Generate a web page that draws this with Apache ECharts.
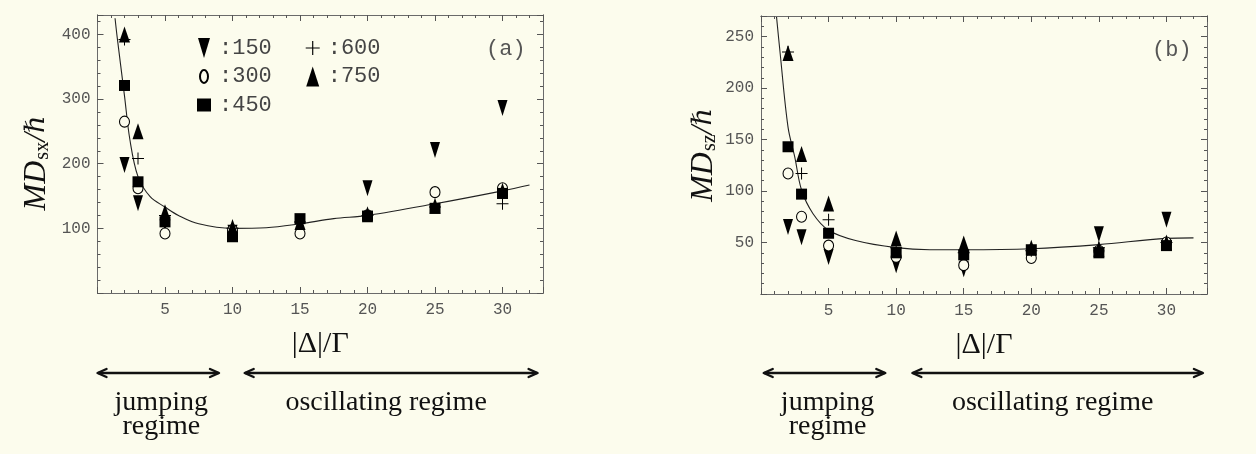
<!DOCTYPE html>
<html><head><meta charset="utf-8">
<script src="https://cdn.jsdelivr.net/npm/echarts@6/dist/echarts.min.js"></script>
<style>html,body{margin:0;padding:0;background:#FCFCED;}#c{width:1256px;height:454px;}</style>
</head><body><div id="c"></div>
<script>
// ---- data ----
const xValues = [2, 3, 5, 10, 15, 20, 25, 30];
const groupNames = ['150', '300', '450', '600', '750'];
// panel (a): MD_sx / hbar
const a150 = [198, 139, 108, 93, 110, 162, 221, 286];
const a300 = [265, 162, 92, 97, 92, 120, 156, 162];
const a450 = [321, 172, 110, 87, 115, 119, 131, 154];
const a600 = [392, 208, 120, 100, 110, 120, 133, 138];
const a750 = [400, 250, 125, 102, 110, 122, 135, 158];
const fitAx = [1.3, 1.45, 2, 2.4, 3, 3.9, 5, 6, 7.5, 10, 12.5, 15, 17.5, 20, 25, 30, 32];
const fitAy = [425, 397, 305, 237, 180, 149, 133, 120, 107, 100, 101, 107, 115, 120, 138, 158, 167];
// panel (b): MD_sz / hbar
const b150 = [65, 55, 36, 28, 24, 38, 58, 72];
const b300 = [117, 75, 47, 36, 28, 35, 42, 50];
const b450 = [143, 97, 59, 40, 38, 43, 40, 47];
const b600 = [235, 117, 72, 45, 40, 42, 45, 50];
const b750 = [234, 136, 88, 54, 49, 45, 44, 50];
const fitBx = [1.15, 1.4, 2, 2.5, 3, 3.85, 5, 7, 10, 12.5, 15, 20, 25, 30, 32];
const fitBy = [269, 236, 162, 133, 101, 78, 62, 52, 45, 43, 43, 44, 48, 54, 54.5];
// ticks
const xTicksMajor = 5, xTicksMinor = 1, xMax = 33;
const yATicksMajor = 100, yATicksMinor = 20, yAMax = 430;
const yBTicksMajor = 50, yBTicksMinor = 10, yBMax = 270;
// regime annotations
const regimeLabels = ['jumping\nregime', 'oscillating regime'];
const regimeRangesA = [[0, 9], [10.9, 32.6]];
const regimeRangesB = [[0.2, 9.2], [11.2, 32.7]];
const panelTags = ['(a)', '(b)'];

// ---- styling ----
const BG = '#FCFCED';
const FRAME = '#6a6a6a';
const TICK = '#555';
const MONO = '"Liberation Mono", "DejaVu Sans Mono", monospace';
const SERIF = '"Liberation Serif", "DejaVu Serif", serif';

const symbols = {
  '150': { symbol: 'path://M0,0L12,0L6,20Z', size: [10, 16], style: { color: '#000', opacity: 1 } },
  '300': { symbol: 'path://M5,0A5,7,0,1,1,5,14A5,7,0,1,1,5,0Z', size: [10, 11], style: { color: BG, borderColor: '#000', borderWidth: 1.1, opacity: 1 } },
  '450': { symbol: 'path://M0,0L14,0L14,13L0,13Z', size: [11, 11], style: { color: '#000', opacity: 1 } },
  '600': { symbol: 'path://M5.5,0h1v12h-1zM0,5.5h12v1h-12z', size: [12, 12], style: { color: '#000', opacity: 1 } },
  '750': { symbol: 'path://M6.5,0L13,20L0,20Z', size: [11, 16], style: { color: '#000', opacity: 1 } }
};
// legend icon for the open circle: small oval inside a larger (invisible) box
const legendCircleIcon = 'path://M0,0M14,20M7,3.5A4,6.5,0,1,1,7,16.5A4,6.5,0,1,1,7,3.5Z';

const grids = [
  { left: 97.5, top: 15, width: 445.5, height: 278 },
  { left: 761, top: 16, width: 446, height: 278 }
];

const xAxes = [], yAxes = [];
function addX(grid, pos, interval, len, labels, name) {
  xAxes.push({
    type: 'value', gridIndex: grid, position: pos, min: 0, max: xMax, interval: interval,
    axisLine: { show: true, onZero: false, lineStyle: { color: FRAME, width: 1 } },
    axisTick: { show: true, inside: true, length: len, lineStyle: { color: TICK, width: 1 } },
    splitLine: { show: false },
    axisLabel: { show: labels, margin: 9, fontFamily: MONO, fontSize: 16, color: '#555',
      formatter: v => (v > 0 && v % 5 === 0) ? String(v) : '' },
    name: name || '', nameLocation: 'middle', nameGap: 36,
    nameTextStyle: { fontFamily: SERIF, fontSize: 30, color: '#111' }
  });
  return xAxes.length - 1;
}
function addY(grid, pos, max, interval, len, labels, name, gap, major, pad) {
  yAxes.push({
    type: 'value', gridIndex: grid, position: pos, min: 0, max: max, interval: interval,
    axisLine: { show: true, onZero: false, lineStyle: { color: FRAME, width: 1 } },
    axisTick: { show: true, inside: true, length: len, lineStyle: { color: TICK, width: 1 } },
    splitLine: { show: false },
    axisLabel: { show: labels, margin: 7, fontFamily: MONO, fontSize: 16, color: '#555',
      formatter: v => (v > 0 && v % major === 0) ? String(v) : '' },
    name: name || '', nameLocation: 'middle', nameGap: gap || 40,
    nameTextStyle: {
      color: '#111',
      padding: pad || 0,
      rich: {
        i: { fontFamily: SERIF, fontStyle: 'italic', fontSize: 32, color: '#111' },
        s: { fontFamily: SERIF, fontSize: 20, color: '#111', padding: [12, 0, 0, 1] },
        h: { fontFamily: '"DejaVu Serif", serif', fontStyle: 'italic', fontSize: 27, color: '#111' }
      }
    }
  });
  return yAxes.length - 1;
}
// panel a axes
const axA = addX(0, 'bottom', xTicksMajor, 6, true, '|Δ|/Γ');
addX(0, 'bottom', xTicksMinor, 3, false);
addX(0, 'top', xTicksMajor, 6, false);
addX(0, 'top', xTicksMinor, 3, false);
const ayA = addY(0, 'left', yAMax, yATicksMajor, 6, true, '{i|MD}{s|sx}{i|/}{h|ℏ}', 45, 100, [0, 18, 0, 0]);
addY(0, 'left', yAMax, yATicksMinor, 3, false, '', 0, 100);
addY(0, 'right', yAMax, yATicksMajor, 6, false, '', 0, 100);
addY(0, 'right', yAMax, yATicksMinor, 3, false, '', 0, 100);
// panel b axes
const axB = addX(1, 'bottom', xTicksMajor, 6, true, '|Δ|/Γ');
addX(1, 'bottom', xTicksMinor, 3, false);
addX(1, 'top', xTicksMajor, 6, false);
addX(1, 'top', xTicksMinor, 3, false);
const ayB = addY(1, 'left', yBMax, yBTicksMajor, 6, true, '{i|MD}{s|sz}{i|/}{h|ℏ}', 41, 50, 0);
addY(1, 'left', yBMax, yBTicksMinor, 3, false, '', 0, 50);
addY(1, 'right', yBMax, yBTicksMajor, 6, false, '', 0, 50);
addY(1, 'right', yBMax, yBTicksMinor, 3, false, '', 0, 50);

function zip(xs, ys) { return xs.map((x, i) => [x, ys[i]]); }
function fitSeries(xi, yi, xs, ys) {
  return { type: 'line', xAxisIndex: xi, yAxisIndex: yi, data: zip(xs, ys), smooth: 0.35,
    showSymbol: false, silent: true, lineStyle: { color: '#222', width: 1.1 }, z: 2 };
}
function scatter(name, xi, yi, vals, z) {
  const s = symbols[name];
  return { type: 'scatter', name: name, xAxisIndex: xi, yAxisIndex: yi, data: zip(xValues, vals),
    symbol: s.symbol, symbolSize: s.size, symbolKeepAspect: false, itemStyle: s.style, z: z, silent: true };
}
const dataA = [a150, a300, a450, a600, a750];
const dataB = [b150, b300, b450, b600, b750];
const series = [fitSeries(axA, ayA, fitAx, fitAy), fitSeries(axB, ayB, fitBx, fitBy)];
groupNames.forEach((n, k) => {
  series.push(scatter(n, axA, ayA, dataA[k], 3 + k));
  series.push(scatter(n, axB, ayB, dataB[k], 3 + k));
});

const chart = echarts.init(document.getElementById('c'), null, { renderer: 'canvas' });
chart.setOption({
  backgroundColor: BG,
  animation: false,
  grid: grids,
  xAxis: xAxes,
  yAxis: yAxes,
  title: [
    { text: panelTags[0], left: 481, top: 33, textStyle: { fontFamily: MONO, fontSize: 22, fontWeight: 'normal', color: '#555' } },
    { text: panelTags[1], left: 1147, top: 34, textStyle: { fontFamily: MONO, fontSize: 22, fontWeight: 'normal', color: '#555' } }
  ],
  legend: {
    data: groupNames.map(n => n === '300' ? { name: n, icon: legendCircleIcon } : { name: n }),
    orient: 'vertical', left: 196, top: 37, height: 80,
    itemWidth: 14, itemHeight: 20, itemGap: 6.5, padding: 0, selectedMode: false,
    symbolKeepAspect: true,
    formatter: ':{name}  ',
    textStyle: { fontFamily: MONO, fontSize: 22, color: '#444', padding: [0, 0, 0, 3] }
  },
  series: series
});

// regime arrows and labels, positioned through the x axes
function regimeGraphics(axisIndex, ranges) {
  const els = [];
  const yArrow = 373, yText = 404;
  ranges.forEach((r, k) => {
    const x1 = chart.convertToPixel({ xAxisIndex: axisIndex }, r[0]);
    const x2 = chart.convertToPixel({ xAxisIndex: axisIndex }, r[1]);
    const st = { stroke: '#111', lineWidth: 2.4, fill: null, lineCap: 'round', lineJoin: 'round' };
    els.push({ type: 'line', shape: { x1: x1 + 1, y1: yArrow, x2: x2 - 1, y2: yArrow }, style: st, silent: true });
    els.push({ type: 'polyline', shape: { points: [[x1 + 9, yArrow - 4], [x1, yArrow], [x1 + 9, yArrow + 4]] }, style: st, silent: true });
    els.push({ type: 'polyline', shape: { points: [[x2 - 9, yArrow - 4], [x2, yArrow], [x2 - 9, yArrow + 4]] }, style: st, silent: true });
    els.push({ type: 'text', x: (x1 + x2) / 2 + (k === 0 ? 3 : -5), y: yText - 13,
      style: { text: regimeLabels[k], align: 'center', verticalAlign: 'top', lineHeight: 23.5,
        font: '28px ' + SERIF, fill: '#111' }, silent: true });
  });
  return els;
}
chart.setOption({ graphic: regimeGraphics(axA, regimeRangesA).concat(regimeGraphics(axB, regimeRangesB)) });
</script></body></html>
